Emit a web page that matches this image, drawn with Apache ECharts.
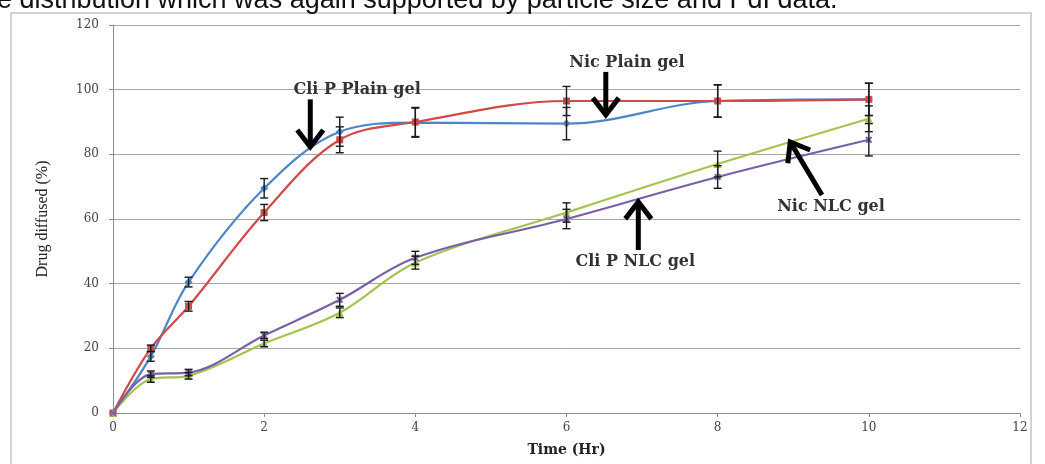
<!DOCTYPE html>
<html>
<head>
<meta charset="utf-8">
<script src="https://cdn.jsdelivr.net/npm/echarts@6/dist/echarts.min.js"></script>
<style>
  html, body { margin: 0; padding: 0; background: #fff; }
  #chart { width: 1045px; height: 464px; }
</style>
</head>
<body>
<div id="chart"></div>
<script>
// time points (Hr)
const timeHr = [0, 0.5, 1, 2, 3, 4, 6, 8, 10];

// drug diffused (%) and error (+/-)
const nicPlain    = [0, 17.5, 40.5, 69.5, 87, 89.8, 89.5, 96.5, 97];
const nicPlainErr = [0, 1.5, 1.5, 3, 4.5, 4.5, 5, 5, 5];
const cliPlain    = [0, 20, 33, 62, 84.5, 90, 96.5, 96.5, 97];
const cliPlainErr = [0, 1, 1.5, 2.5, 4, 4.5, 4.5, 5, 5];
const cliNlc      = [0, 10.5, 11.5, 21.5, 31, 46.5, 62, 77, 91];
const cliNlcErr   = [0, 1, 1, 1, 1.5, 2, 3, 4, 4];
const nicNlc      = [0, 12, 12.5, 24, 35, 48, 60, 73, 84.5];
const nicNlcErr   = [0, 1, 1, 1, 2, 2, 3, 3.5, 5];

// annotations (data coords)
const noteLabels    = ['Cli P Plain gel', 'Nic Plain gel', 'Cli P NLC gel', 'Nic NLC gel'];
const noteTextAt    = [[3.23, 100], [6.8, 108.3], [6.91, 46.7], [9.5, 63.7]];
const noteArrowFrom = [[2.61, 97], [6.52, 105.5], [6.95, 50.4], [9.38, 67.4]];
const noteArrowTo   = [[2.61, 82.3], [6.52, 92.2], [6.95, 65.3], [8.96, 83.8]];

const topText = 'e distribution which was again supported by particle size and PdI data.';

const serif = '"DejaVu Serif", serif';
const chart = echarts.init(document.getElementById('chart'));

function lineSeries(name, vals, color, symbol, size) {
  return {
    name,
    type: 'line',
    data: timeHr.map((t, i) => [t, vals[i]]),
    smooth: 0.35,
    symbol,
    symbolSize: size,
    lineStyle: { color, width: 2.2 },
    itemStyle: { color },
    z: 2
  };
}

function errorSeries(vals, errs) {
  const data = [];
  timeHr.forEach((t, i) => {
    if (errs[i] > 0) data.push([t, vals[i] - errs[i], vals[i] + errs[i]]);
  });
  return {
    type: 'custom',
    data,
    encode: { x: 0, y: [1, 2] },
    renderItem(params, api) {
      const lo = api.coord([api.value(0), api.value(1)]);
      const hi = api.coord([api.value(0), api.value(2)]);
      const w = 4;
      const style = { stroke: '#1a1a1a', lineWidth: 1.4 };
      return {
        type: 'group',
        children: [
          { type: 'line', shape: { x1: lo[0], y1: lo[1], x2: hi[0], y2: hi[1] }, style },
          { type: 'line', shape: { x1: lo[0] - w, y1: lo[1], x2: lo[0] + w, y2: lo[1] }, style },
          { type: 'line', shape: { x1: hi[0] - w, y1: hi[1], x2: hi[0] + w, y2: hi[1] }, style }
        ]
      };
    },
    z: 3
  };
}

const xMark = 'path://M0,2L2,0L5,3L8,0L10,2L7,5L10,8L8,10L5,7L2,10L0,8L3,5Z';

chart.setOption({
  animation: false,
  grid: { left: 113, right: 25, top: 25, bottom: 51 },
  xAxis: {
    type: 'value',
    min: 0, max: 12, interval: 2,
    name: 'Time (Hr)',
    nameLocation: 'middle',
    nameGap: 30,
    nameTextStyle: { fontFamily: serif, fontWeight: 'bold', fontSize: 14, color: '#222' },
    axisLine: { lineStyle: { color: '#8c8c8c', width: 1 } },
    axisTick: { show: true, length: 4, lineStyle: { color: '#8c8c8c' } },
    axisLabel: { fontFamily: serif, fontSize: 12, color: '#444', margin: 9 },
    splitLine: { show: false }
  },
  yAxis: {
    type: 'value',
    min: 0, max: 120, interval: 20,
    name: 'Drug diffused (%)',
    nameLocation: 'middle',
    nameGap: 62,
    nameTextStyle: { fontFamily: '"Liberation Serif", serif', fontSize: 16, color: '#222' },
    axisLine: { show: true, lineStyle: { color: '#8c8c8c', width: 1 } },
    axisTick: { show: true, length: 4, lineStyle: { color: '#8c8c8c' } },
    axisLabel: { fontFamily: serif, fontSize: 12, color: '#444', margin: 14 },
    splitLine: { lineStyle: { color: '#a6a6a6', width: 1 } }
  },
  series: [
    lineSeries('Nic Plain gel', nicPlain, '#4a86c8', 'diamond', 8),
    lineSeries('Cli P Plain gel', cliPlain, '#d04a4a', 'rect', 7),
    lineSeries('Cli P NLC gel', cliNlc, '#a3c44e', 'triangle', 8),
    lineSeries('Nic NLC gel', nicNlc, '#7a5fa8', xMark, 7),
    errorSeries(nicPlain, nicPlainErr),
    errorSeries(cliPlain, cliPlainErr),
    errorSeries(cliNlc, cliNlcErr),
    errorSeries(nicNlc, nicNlcErr)
  ]
});

// annotations placed through the grid's own coordinate system
const graphics = [
  {
    type: 'rect',
    shape: { x: 11, y: 13, width: 1020, height: 470 },
    style: { fill: 'none', stroke: '#c4c4c4', lineWidth: 1.5 },
    silent: true, z: -1
  },
  {
    type: 'text',
    x: -3, y: 14,
    style: {
      text: topText,
      font: '27px "Liberation Sans", Arial, sans-serif',
      fill: '#111',
      verticalAlign: 'bottom'
    },
    silent: true
  }
];

noteLabels.forEach((label, i) => {
  const t = chart.convertToPixel({ gridIndex: 0 }, noteTextAt[i]);
  const a = chart.convertToPixel({ gridIndex: 0 }, noteArrowFrom[i]);
  const b = chart.convertToPixel({ gridIndex: 0 }, noteArrowTo[i]);
  const dx = b[0] - a[0], dy = b[1] - a[1];
  const len = Math.hypot(dx, dy);
  const ux = dx / len, uy = dy / len;
  const nx = -uy, ny = ux;
  const hl = 17, hw = 13;
  graphics.push({
    type: 'text',
    x: t[0], y: t[1],
    style: {
      text: label,
      font: 'bold 16px ' + serif,
      fill: '#333',
      align: 'center',
      verticalAlign: 'middle'
    },
    silent: true, z: 10
  });
  graphics.push({
    type: 'polyline',
    shape: { points: [a, b] },
    style: { stroke: '#000', lineWidth: 5, fill: null },
    silent: true, z: 10
  });
  graphics.push({
    type: 'polyline',
    shape: {
      points: [
        [b[0] - ux * hl + nx * hw, b[1] - uy * hl + ny * hw],
        [b[0], b[1]],
        [b[0] - ux * hl - nx * hw, b[1] - uy * hl - ny * hw]
      ]
    },
    style: { stroke: '#000', lineWidth: 5, fill: null, lineJoin: 'miter' },
    silent: true, z: 10
  });
});

chart.setOption({ graphic: graphics });
window.addEventListener('resize', () => chart.resize());
</script>
</body>
</html>
